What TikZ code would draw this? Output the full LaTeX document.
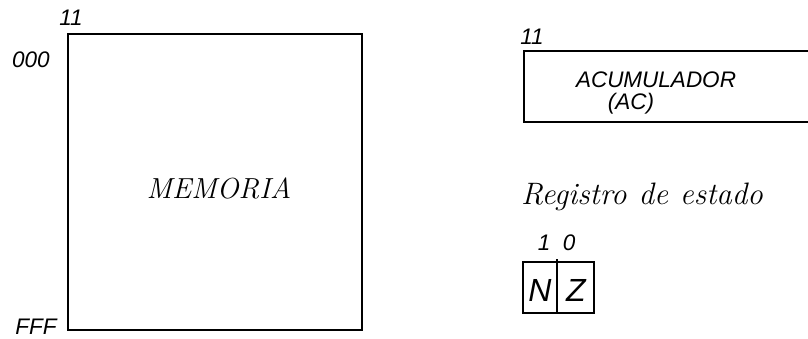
\documentclass[tikz,border=0pt]{standalone}
\usepackage{fontspec}
\newfontfamily\arialf{Liberation Sans}
\begin{document}
\begin{tikzpicture}[x=1pt,y=-1pt,
  lbl/.style={font=\arialf\itshape\fontsize{22.5}{25}\selectfont, inner sep=0pt},
  big/.style={font=\arialf\itshape\fontsize{32}{35}\selectfont, inner sep=0pt},
  ser/.style={font=\itshape\fontsize{29}{33}\selectfont, inner sep=0pt},
  box/.style={line width=1.8pt}]
\useasboundingbox (0,0) rectangle (808,338);
% memory
\draw[box] (68,34) rectangle (362,330);
\node[lbl] (m11) at (71,18) {11};
\node[lbl] (m000) at (31,60) {000};
\node[lbl] (mfff) at (36,327) {FFF};
\node[ser] (mem) at (219,188) {MEMORIA};
% accumulator
\draw[box] (808,51) -- (524,51) -- (524,122) -- (808,122);
\node[lbl] (a11) at (532,37) {11};
\node[lbl] (acc) at (656,80) {ACUMULADOR};
\node[lbl] (ac) at (631,104) {(AC)};
% status register
\node[ser,font=\itshape\fontsize{31}{35}\selectfont] (reg) at (642,197) {Registro\hspace{12pt}de\hspace{12pt}estado};
\node[lbl] (b1) at (544,243) {1};
\node[lbl] (b0) at (569,243) {0};
\draw[line width=1.5pt] (523,262) rectangle (594,313);
\draw[line width=1.5pt] (557,259) -- (557,313);
\node[big] (n) at (540,290) {N};
\node[big] (z) at (576,290) {Z};
\end{tikzpicture}
\end{document}
